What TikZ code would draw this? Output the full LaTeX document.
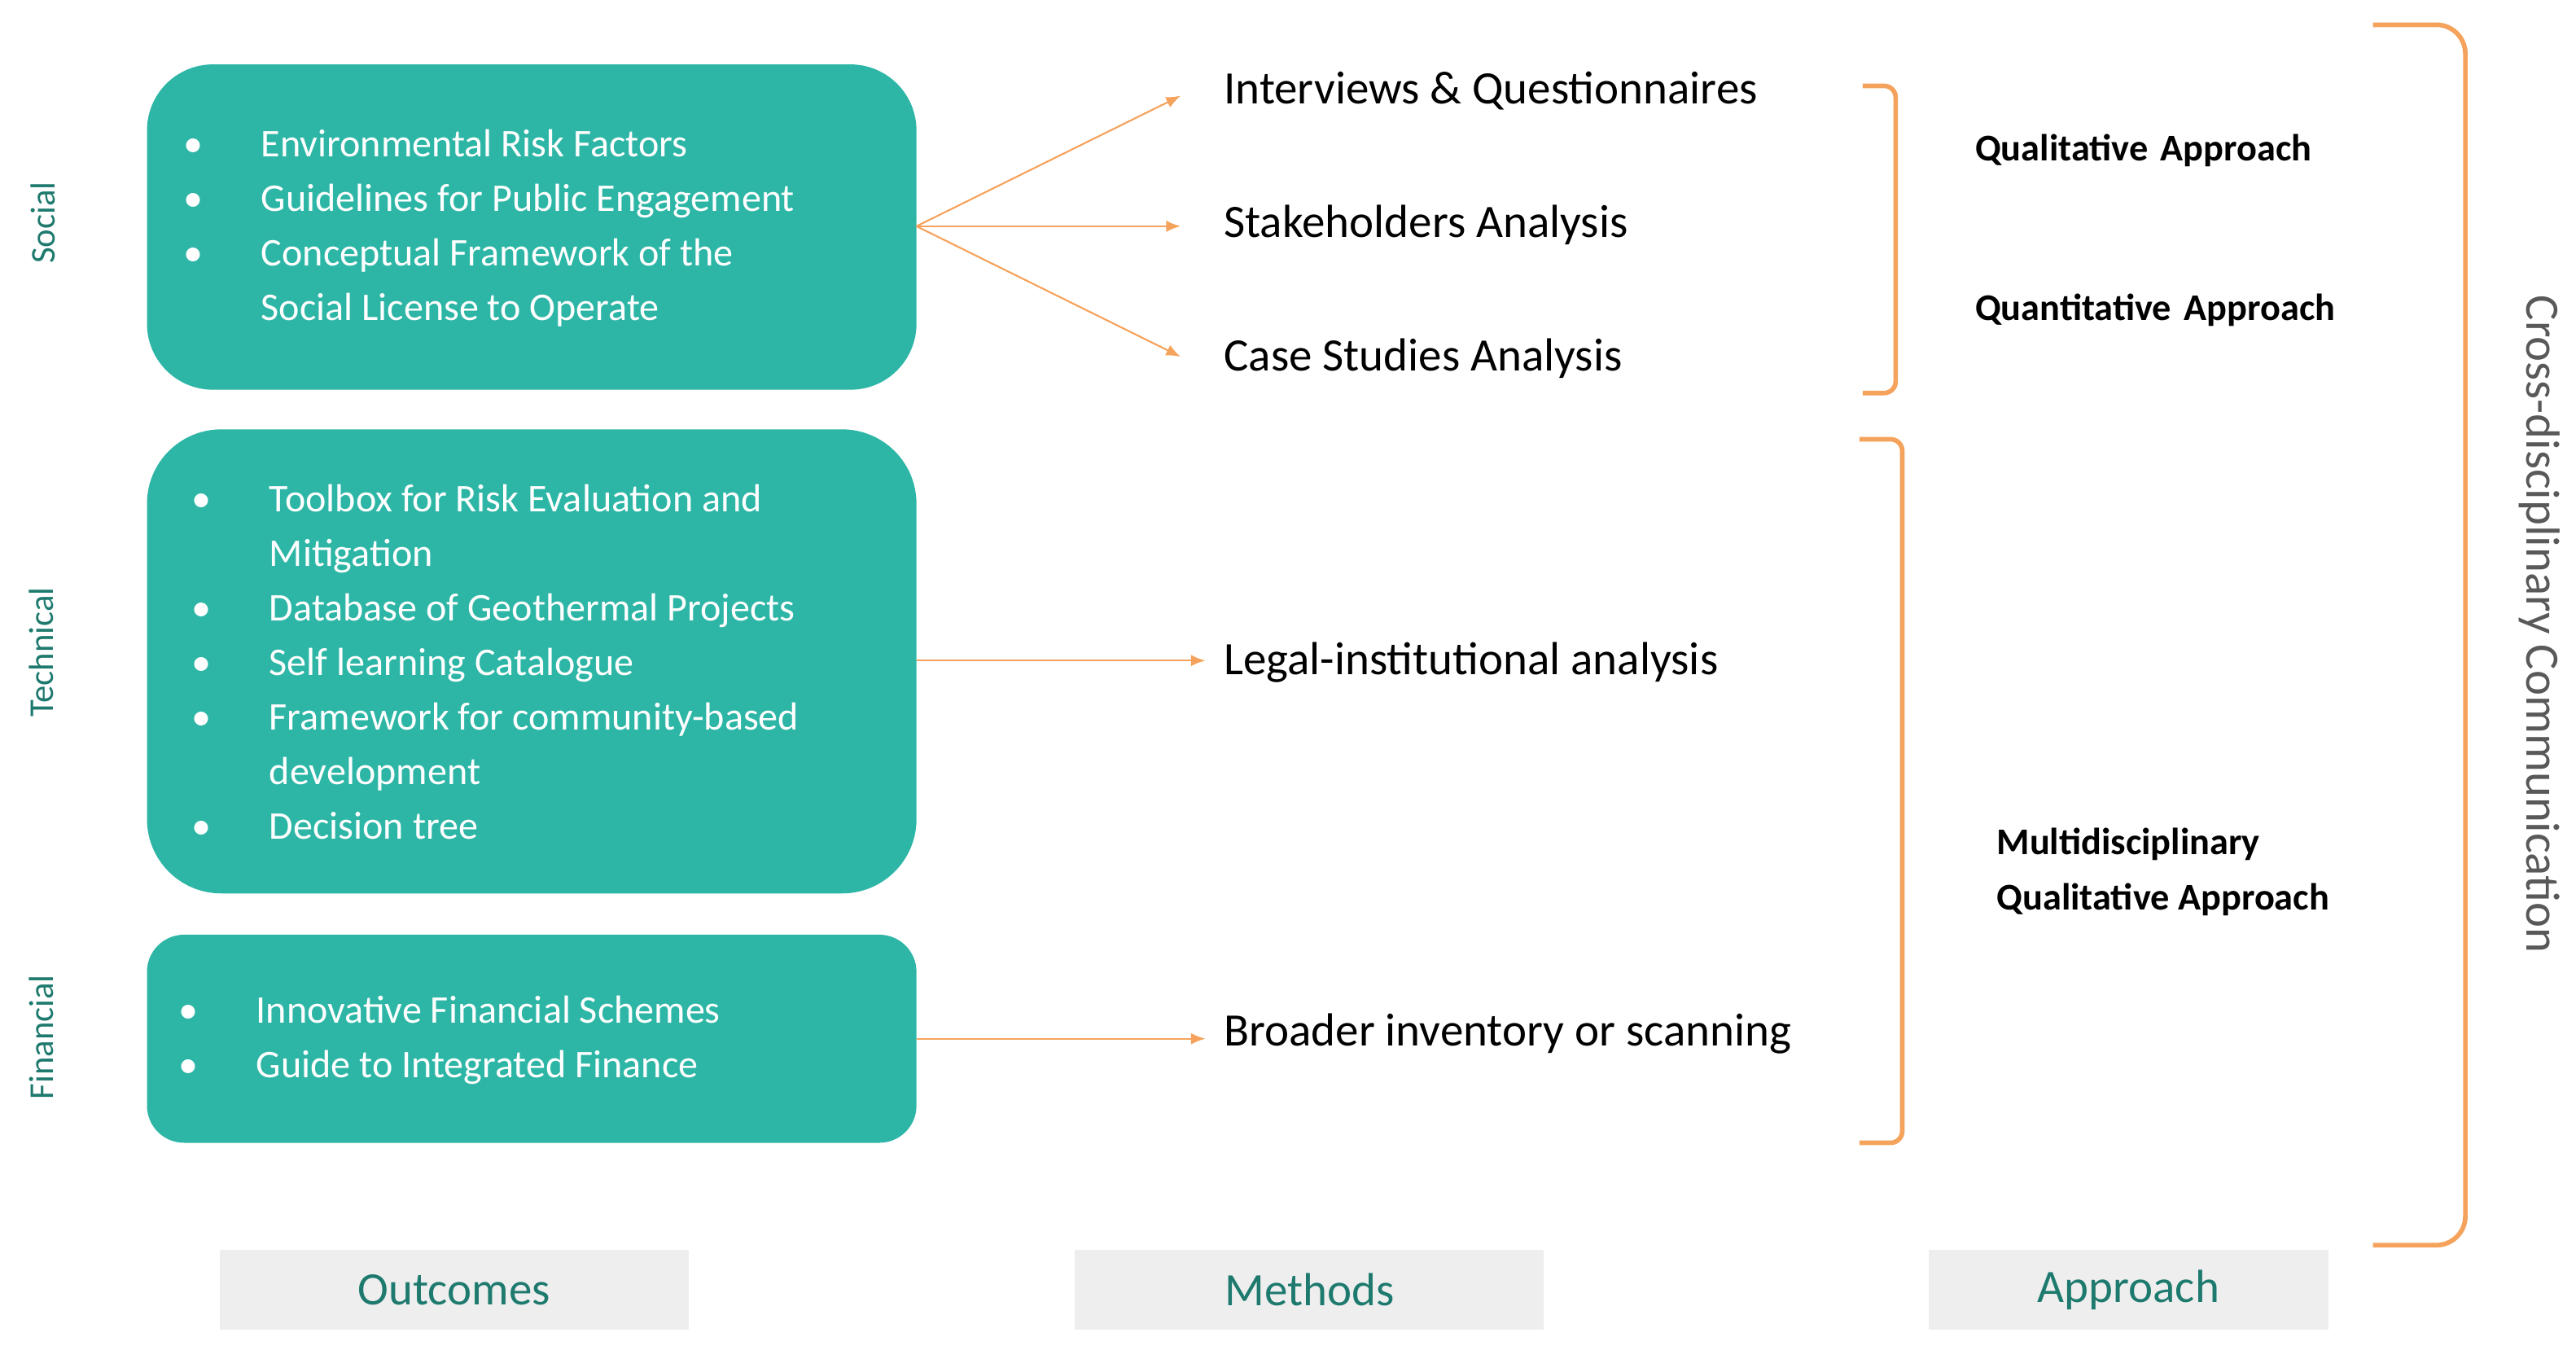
\documentclass[tikz,border=0pt]{standalone}
\usepackage{fontspec}
\setmainfont{Carlito}
\usetikzlibrary{arrows.meta}
\definecolor{teal1}{HTML}{2DB6A6}
\definecolor{darkteal}{HTML}{1E7A6E}
\definecolor{org}{HTML}{F5A35C}
\definecolor{gbox}{HTML}{EEEEEE}
\begin{document}
\begin{tikzpicture}[x=0.02cm,y=-0.02cm,
  box/.style={fill=teal1,draw=none},
  btxt/.style={text=white,font=\fontsize{13.5}{18.8}\selectfont,align=left,anchor=west},
  side/.style={text=darkteal,font=\fontsize{12}{14}\selectfont,rotate=90},
  meth/.style={anchor=west,font=\fontsize{16}{19}\selectfont},
  appr/.style={anchor=west,font=\fontsize{13}{19}\selectfont\bfseries,align=left},
  arr/.style={org,line width=0.6pt,-{Latex[length=5pt,width=4pt]}},
  brk/.style={org,line width=1.6pt,rounded corners=4pt},
  foot/.style={fill=gbox,text=darkteal,font=\fontsize{16}{19}\selectfont}]
\useasboundingbox (0,0) rectangle (1560,817);
% boxes
\fill[box,rounded corners=0.8cm] (89,39) rectangle (555,236);
\fill[box,rounded corners=0.9cm] (89,260) rectangle (555,541);
\fill[box,rounded corners=0.45cm] (89,566) rectangle (555,692);
\coordinate (s) at (555,137);
\coordinate (t) at (555,400);
\coordinate (f) at (555,629);
\node[btxt] (st) at (105,138) {\textbullet\hspace{20pt}Environmental Risk Factors\\
\textbullet\hspace{20pt}Guidelines for Public Engagement\\
\textbullet\hspace{20pt}Conceptual Framework of the\\
\hphantom{\textbullet}\hspace{20pt}Social License to Operate};
\node[btxt] (tt) at (110,401) {\textbullet\hspace{20pt}Toolbox for Risk Evaluation and\\
\hphantom{\textbullet}\hspace{20pt}Mitigation\\
\textbullet\hspace{20pt}Database of Geothermal Projects\\
\textbullet\hspace{20pt}Self learning Catalogue\\
\textbullet\hspace{20pt}Framework for community-based\\
\hphantom{\textbullet}\hspace{20pt}development\\
\textbullet\hspace{20pt}Decision tree};
\node[btxt] (ft) at (102,630) {\textbullet\hspace{20pt}Innovative Financial Schemes\\
\textbullet\hspace{20pt}Guide to Integrated Finance};
% side labels
\node[side] (ls) at (26,135) {Social};
\node[side] (lt) at (25,395) {Technical};
\node[side] (lf) at (25,628) {Financial};
% methods
\node[meth] (m1) at (735,55) {Interviews \& Questionnaires};
\node[meth] (m2) at (735,136) {Stakeholders Analysis};
\node[meth] (m3) at (735,217) {Case Studies Analysis};
\node[meth] (m4) at (735,401) {Legal-institutional analysis};
\node[meth] (m5) at (735,626) {Broader inventory or scanning};
\coordinate (a1) at (715,58);
\coordinate (a2) at (715,137);
\coordinate (a3) at (715,216);
\coordinate (a4) at (730,400);
\coordinate (a5) at (730,629);
\draw[arr] (s) -- (a1);
\draw[arr] (s) -- (a2);
\draw[arr] (s) -- (a3);
\draw[arr] (t) -- (a4);
\draw[arr] (f) -- (a5);
% brackets
\draw[brk] (1128,52) -- (1148,52) -- (1148,238) -- (1128,238);
\draw[brk] (1126,266) -- (1152,266) -- (1152,692) -- (1126,692);
\draw[brk,rounded corners=10pt] (1437,15) -- (1493,15) -- (1493,754) -- (1437,754);
% approaches
\node[appr] (q1) at (1190,91) {Qualitative\,\,Approach};
\node[appr] (q2) at (1190,188) {Quantitative\,\,Approach};
\node[appr] (q3) at (1203,528) {Multidisciplinary\\Qualitative Approach};
\node[rotate=-90,text=black!65,font=\fontsize{16.5}{19}\selectfont] (cc) at (1538,378) {Cross-disciplinary Communication};
% footer
\node[foot,minimum width=5.68cm,minimum height=0.96cm] (o) at (275,781) {Outcomes};
\node[foot,minimum width=5.68cm,minimum height=0.96cm] (m) at (793,781) {Methods};
\node[foot,minimum width=4.84cm,minimum height=0.96cm] (ap) at (1289,781) {Approach};
\end{tikzpicture}
\end{document}
